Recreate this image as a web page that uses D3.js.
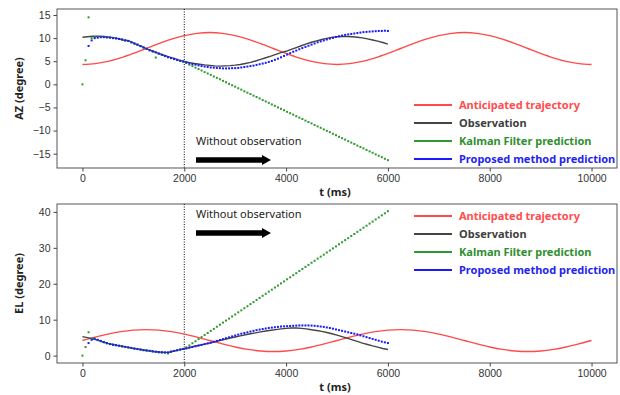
<!DOCTYPE html>
<html>
<head>
<meta charset="utf-8">
<script src="https://cdn.jsdelivr.net/npm/d3@7"></script>
<style>
  body { margin: 0; background: #fff; }
  svg { display: block; font-family: "Noto Sans", "DejaVu Sans", sans-serif; }
  .tick text { font-size: 10.5px; fill: #333; }
  .tick line, .domain { stroke: #444; }
</style>
</head>
<body>
<svg id="chart" width="620" height="395"></svg>
<script>
// time grids (ms)
const tRef = d3.range(0, 10001, 250);
const tObs = d3.range(0, 6001, 100);
const tDot = d3.range(0, 6001, 60);

// anticipated trajectory
const azRef = [4.3, 4.47, 4.96, 5.72, 6.68, 7.75, 8.82, 9.78, 10.54, 11.03, 11.2, 11.03, 10.54, 9.78, 8.82, 7.75, 6.68, 5.72, 4.96, 4.47,
  4.3, 4.47, 4.96, 5.72, 6.68, 7.75, 8.82, 9.78, 10.54, 11.03, 11.2, 11.03, 10.54, 9.78, 8.82, 7.75, 6.68, 5.72, 4.96, 4.47, 4.3];
const elRef = [4.2, 5.14, 5.99, 6.67, 7.1, 7.25, 7.1, 6.67, 5.99, 5.14, 4.2, 3.26, 2.41, 1.73, 1.3, 1.15, 1.3, 1.73, 2.41, 3.26,
  4.2, 5.14, 5.99, 6.67, 7.1, 7.25, 7.1, 6.67, 5.99, 5.14, 4.2, 3.26, 2.41, 1.73, 1.3, 1.15, 1.3, 1.73, 2.41, 3.26, 4.2];

// observation
const azObs = [10.2, 10.3, 10.4, 10.4, 10.35, 10.25, 10.1, 9.9, 9.6, 9.45, 8.95, 8.5, 8.0, 7.5, 7.1, 6.7, 6.3, 5.95, 5.6, 5.25,
  4.95, 4.7, 4.5, 4.35, 4.2, 4.1, 4.0, 3.95, 4.0, 4.05, 4.15, 4.3, 4.5, 4.75, 5.05, 5.4, 5.75, 6.1, 6.5, 6.85,
  7.15, 7.55, 7.95, 8.35, 8.75, 9.1, 9.4, 9.7, 9.95, 10.15, 10.3, 10.35, 10.35, 10.3, 10.2, 10.05, 9.85, 9.6, 9.35, 9.05, 8.7];
const elObs = [5.3, 5.0, 4.7, 4.3, 3.8, 3.4, 3.1, 2.8, 2.55, 2.3, 2.0, 1.8, 1.55, 1.35, 1.15, 1.0, 0.9, 0.95, 1.3, 1.6,
  1.9, 2.25, 2.6, 2.9, 3.2, 3.5, 3.85, 4.2, 4.55, 4.9, 5.2, 5.5, 5.8, 6.1, 6.35, 6.6, 6.85, 7.05, 7.25, 7.45,
  7.6, 7.7, 7.7, 7.6, 7.45, 7.2, 7.0, 6.75, 6.45, 6.1, 5.7, 5.3, 4.85, 4.4, 3.95, 3.5, 3.1, 2.7, 2.35, 2.0, 1.7];

// Kalman filter prediction (null = no output)
const azKf = [0, 5.2, 14.5, 10.0, 10.2, 10.3, 10.3, 10.3, 10.2, 10.15, 10.05, 9.95, 9.85, 9.7, 9.5, 9.35, 9.1, 8.8, 8.55, 8.25,
  7.95, 7.65, 7.35, 7.1, 5.8, 6.6, 6.35, 6.1, 5.85, 5.65, 5.45, 5.25, 5.05, 4.9,
  4.6, 4.25, 3.95, 3.6, 3.3, 3.0, 2.65, 2.35, 2.05, 1.7, 1.4, 1.1, 0.75, 0.45, 0.1, -0.2, -0.5, -0.85, -1.15, -1.5,
  -1.8, -2.1, -2.45, -2.75, -3.05, -3.4, -3.7, -4.0, -4.35, -4.65, -5.0, -5.3, -5.6, -5.95, -6.25, -6.55, -6.9, -7.2,
  -7.5, -7.85, -8.15, -8.45, -8.8, -9.1, -9.4, -9.75, -10.05, -10.35, -10.7, -11.0, -11.35, -11.65, -11.95, -12.3,
  -12.6, -12.9, -13.25, -13.55, -13.85, -14.2, -14.5, -14.8, -15.15, -15.45, -15.75, -16.1, -16.4];
const elKf = [0, 2.4, 6.5, 4.8, 4.6, 4.3, 4.0, 3.7, 3.4, 3.2, 3.0, 2.9, 2.75, 2.6, 2.4, 2.25, 2.1, 1.95, 1.8, 1.65,
  1.5, 1.4, 1.3, 1.15, 1.05, 0.9, 0.85, 0.8, 0.6, 1.1, 1.3, 1.5, 1.7, 1.85,
  2.3, 2.85, 3.45, 4.0, 4.6, 5.15, 5.75, 6.3, 6.9, 7.45, 8.05, 8.6, 9.2, 9.75, 10.3, 10.9, 11.45, 12.05, 12.6, 13.2,
  13.75, 14.35, 14.9, 15.5, 16.05, 16.65, 17.2, 17.8, 18.35, 18.95, 19.5, 20.1, 20.65, 21.25, 21.8, 22.4, 22.95, 23.55,
  24.1, 24.7, 25.25, 25.85, 26.4, 27.0, 27.55, 28.1, 28.7, 29.25, 29.85, 30.4, 31.0, 31.55, 32.15, 32.7,
  33.3, 33.85, 34.45, 35.0, 35.6, 36.15, 36.75, 37.3, 37.9, 38.45, 39.05, 39.6, 40.2];

// proposed method prediction
const azPm = [null, null, 8.3, 9.5, 10.0, 10.1, 10.2, 10.2, 10.15, 10.1, 10.0, 9.95, 9.8, 9.7, 9.5, 9.4, 9.1, 8.85, 8.6, 8.3,
  8.0, 7.7, 7.4, 7.15, 6.9, 6.65, 6.4, 6.15, 5.9, 5.7, 5.5, 5.3, 5.1, 4.95,
  4.75, 4.55, 4.4, 4.25, 4.1, 3.95, 3.85, 3.75, 3.65, 3.6, 3.55, 3.5, 3.45, 3.45, 3.45, 3.5, 3.5, 3.55, 3.65, 3.75,
  3.85, 3.95, 4.05, 4.2, 4.35, 4.5, 4.65, 4.85, 5.05, 5.3, 5.55, 5.85, 6.15, 6.45, 6.75, 7.05, 7.3, 7.6,
  7.85, 8.1, 8.35, 8.6, 8.85, 9.1, 9.3, 9.5, 9.7, 9.9, 10.05, 10.25, 10.4, 10.55, 10.7, 10.8,
  10.9, 11.0, 11.1, 11.2, 11.3, 11.35, 11.4, 11.45, 11.5, 11.55, 11.55, 11.6, 11.55];
const elPm = [null, null, 3.5, 4.4, 4.7, 4.4, 4.1, 3.8, 3.5, 3.25, 3.05, 2.9, 2.75, 2.6, 2.45, 2.3, 2.15, 2.0, 1.85, 1.7,
  1.55, 1.45, 1.35, 1.2, 1.1, 1.0, 0.95, 0.9, 0.9, 1.1, 1.3, 1.5, 1.7, 1.85,
  2.0, 2.2, 2.4, 2.6, 2.8, 3.0, 3.2, 3.4, 3.6, 3.85, 4.1, 4.35, 4.6, 4.85, 5.1, 5.35, 5.6, 5.85, 6.1, 6.3,
  6.5, 6.7, 6.9, 7.1, 7.25, 7.4, 7.55, 7.7, 7.8, 7.9, 8.0, 8.1, 8.15, 8.2, 8.25, 8.3, 8.35, 8.4,
  8.4, 8.4, 8.4, 8.35, 8.3, 8.2, 8.1, 8.0, 7.85, 7.7, 7.5, 7.3, 7.1, 6.9, 6.7, 6.5,
  6.3, 6.1, 5.9, 5.65, 5.4, 5.15, 4.9, 4.65, 4.4, 4.15, 3.9, 3.7, 3.5];

const legendNames = ["Anticipated trajectory", "Observation", "Kalman Filter prediction", "Proposed method prediction"];
const colors = { ref: "#ff4a4a", obs: "#444", kf: "#2e9a2e", pm: "#1a1aff" };
const legendColors = [colors.ref, colors.obs, colors.kf, colors.pm];
const textColors = ["#ff4d4d", "#404040", "#2f8f2f", "#2424ee"];

const svg = d3.select("#chart");
const left = 57, right = 617;

const panels = [
  { top: 9, bottom: 168, domain: [-18.1, 16.3], ticks: [-15, -10, -5, 0, 5, 10, 15], label: "AZ (degree)",
    ref: azRef, obs: azObs, kf: azKf, pm: azPm, legendY: 105, textY: 145, arrowY: 160 },
  { top: 204, bottom: 363, domain: [-2.05, 42.2], ticks: [0, 10, 20, 30, 40], label: "EL (degree)",
    ref: elRef, obs: elObs, kf: elKf, pm: elPm, legendY: 216, textY: 218, arrowY: 233 }
];

const x = d3.scaleLinear().domain([-500, 10500]).range([left, right]);

panels.forEach((p) => {
  const y = d3.scaleLinear().domain(p.domain).range([p.bottom, p.top]);
  const g = svg.append("g");

  g.append("g")
    .attr("transform", `translate(0,${p.bottom})`)
    .call(d3.axisBottom(x).tickValues([0, 2000, 4000, 6000, 8000, 10000]).tickFormat(d3.format("d")).tickSize(3.5).tickPadding(3))
    .call((a) => a.select(".domain").remove());
  g.append("g")
    .attr("transform", `translate(${left},0)`)
    .call(d3.axisLeft(y).tickValues(p.ticks).tickFormat((d) => (d < 0 ? "\u2212" + Math.abs(d) : d)).tickSize(3.5).tickPadding(3))
    .call((a) => a.select(".domain").remove());

  // frame
  g.append("rect")
    .attr("x", left).attr("y", p.top)
    .attr("width", right - left).attr("height", p.bottom - p.top)
    .attr("fill", "none").attr("stroke", "#444").attr("stroke-width", 0.9);

  g.append("text")
    .attr("x", 335).attr("y", p.bottom + 28)
    .attr("text-anchor", "middle")
    .attr("font-size", 11).attr("font-weight", "bold").attr("fill", "#222")
    .text("t (ms)");
  g.append("text")
    .attr("transform", `translate(23,${(p.top + p.bottom) / 2}) rotate(-90)`)
    .attr("text-anchor", "middle")
    .attr("font-size", 11).attr("font-weight", "bold").attr("fill", "#222")
    .text(p.label);

  // 2000 ms marker
  g.append("line")
    .attr("x1", x(2000)).attr("x2", x(2000))
    .attr("y1", p.top).attr("y2", p.bottom)
    .attr("stroke", "#000").attr("stroke-width", 1).attr("stroke-dasharray", "1,1.5");

  const plot = g.append("g");

  plot.append("path")
    .datum(tRef.map((t, i) => [t, p.ref[i]]))
    .attr("fill", "none").attr("stroke", colors.ref).attr("stroke-width", 1.4)
    .attr("d", d3.line().x((d) => x(d[0])).y((d) => y(d[1])).curve(d3.curveCatmullRom));

  plot.append("path")
    .datum(tObs.map((t, i) => [t, p.obs[i]]))
    .attr("fill", "none").attr("stroke", colors.obs).attr("stroke-width", 1.4)
    .attr("d", d3.line().x((d) => x(d[0])).y((d) => y(d[1])));

  [["kf", colors.kf], ["pm", colors.pm]].forEach(([key, c]) => {
    plot.selectAll(null)
      .data(tDot.map((t, i) => [t, p[key][i]]).filter((d) => d[1] != null))
      .join("rect")
      .attr("x", (d) => x(d[0]) - 1)
      .attr("y", (d) => y(d[1]) - 1)
      .attr("width", 2).attr("height", 2)
      .attr("fill", c);
  });

  // annotation
  g.append("text")
    .attr("x", 196).attr("y", p.textY)
    .attr("font-size", 11).attr("fill", "#222")
    .text("Without observation");
  const ay = p.arrowY;
  g.append("path")
    .attr("d", `M196,${ay - 2.8} L262,${ay - 2.8} L262,${ay - 5} L271,${ay} L262,${ay + 5} L262,${ay + 2.8} L196,${ay + 2.8} Z`)
    .attr("fill", "#000");

  // legend
  const lg = g.append("g");
  legendNames.forEach((name, i) => {
    const ly = p.legendY + i * 18;
    lg.append("line")
      .attr("x1", 414).attr("x2", 452).attr("y1", ly).attr("y2", ly)
      .attr("stroke", legendColors[i]).attr("stroke-width", 2);
    lg.append("text")
      .attr("x", 459).attr("y", ly).attr("dy", "0.35em")
      .attr("font-size", 11).attr("font-weight", "bold").attr("fill", textColors[i])
      .text(name);
  });
});
</script>
</body>
</html>
